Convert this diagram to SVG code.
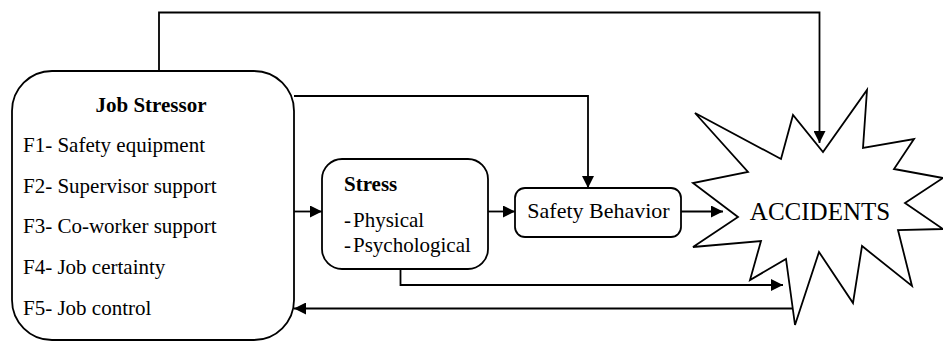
<svg xmlns="http://www.w3.org/2000/svg" width="943" height="343" viewBox="0 0 943 343" font-family="'Liberation Serif', 'DejaVu Serif', serif">
<style>
.box{fill:#fff;stroke:#000;stroke-width:1.8}
.ln{fill:none;stroke:#000;stroke-width:1.8}
text{fill:#000}
.t{font-size:21px}
.b{font-size:21px;font-weight:bold}
</style>
<defs>
<marker id="ah" viewBox="0 0 12 12" refX="12" refY="6" markerWidth="12" markerHeight="12" markerUnits="userSpaceOnUse" orient="auto">
<path d="M0,0 L12,6 L0,12 Z" fill="#000"/>
</marker>
</defs>
<g id="job-stressor">
<rect class="box" x="12" y="71" width="282" height="269" rx="40" ry="40"/>
<text class="b" x="151" y="112" text-anchor="middle">Job Stressor</text>
<text class="t" x="23" y="152">F1- Safety equipment</text>
<text class="t" x="23" y="193">F2- Supervisor support</text>
<text class="t" x="23" y="233">F3- Co-worker support</text>
<text class="t" x="23" y="274">F4- Job certainty</text>
<text class="t" x="23" y="315">F5- Job control</text>
</g>
<g id="stress">
<rect class="box" x="322" y="159" width="166" height="110" rx="20" ry="20"/>
<text class="b" x="344" y="191">Stress</text>
<text class="t" x="344" y="227"><tspan>-</tspan><tspan dx="2">Physical</tspan></text>
<text class="t" x="344" y="252"><tspan>-</tspan><tspan dx="2">Psychological</tspan></text>
</g>
<g id="safety-behavior">
<rect class="box" x="515" y="188" width="166" height="49" rx="10" ry="10"/>
<text x="598.5" y="218" font-size="22" text-anchor="middle">Safety Behavior</text>
</g>
<g id="accidents">
<polygon class="box" stroke-width="1.6" points="695,113 781,159 793,115 823,152 867,90 863,148 914,139 894,169 943,178 905,203 943,229 898,230 912,286 862,246 853,303 819,252 795,325 786,259 750,280 761,241 693,247 738,217 693,183 748,172"/>
<text x="820" y="220" font-size="25" text-anchor="middle">ACCIDENTS</text>
</g>
<g id="connectors">
<path class="ln" d="M159,71 V12.5 H819.5 V143" marker-end="url(#ah)"/>
<path class="ln" d="M294,96 H588 V188" marker-end="url(#ah)"/>
<path class="ln" d="M294,211.5 H322" marker-end="url(#ah)"/>
<path class="ln" d="M488,211.5 H515" marker-end="url(#ah)"/>
<path class="ln" d="M681,211.5 H723" marker-end="url(#ah)"/>
<path class="ln" d="M400.5,269 V285 H783" marker-end="url(#ah)"/>
<path class="ln" d="M792,308.5 H294" marker-end="url(#ah)"/>
</g>
</svg>
